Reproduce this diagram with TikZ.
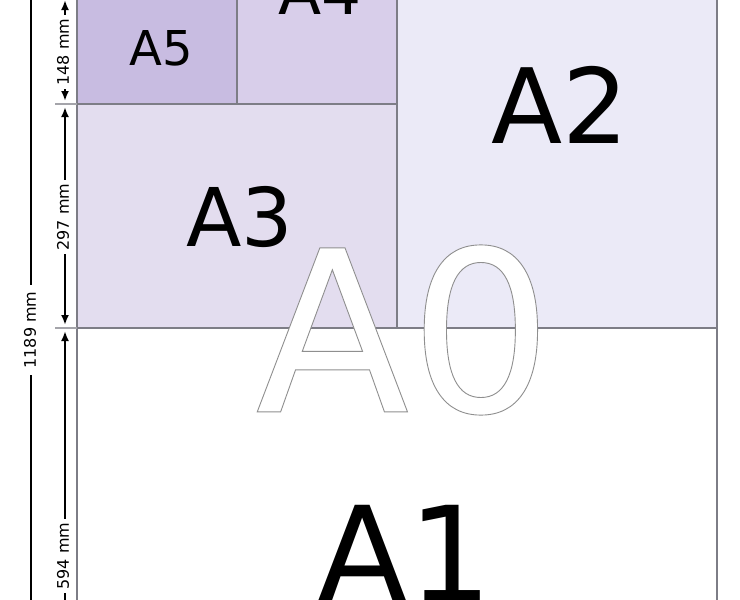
\documentclass[tikz,border=0pt]{standalone}
\usepackage{fontspec}
\setmainfont{DejaVu Sans}
\usetikzlibrary{arrows.meta}
\definecolor{cfive}{RGB}{200,188,225}
\definecolor{cfour}{RGB}{216,206,234}
\definecolor{cthree}{RGB}{227,221,239}
\definecolor{ctwo}{RGB}{235,234,247}
\definecolor{cborder}{RGB}{125,125,134}
\tikzset{
  sheet/.style={draw=cborder, line width=1.5pt},
  dimline/.style={draw=black, line width=2pt},
  dimarrow/.style={dimline, {Latex[length=10pt,width=8pt]}-{Latex[length=10pt,width=8pt]}},
  dimtext/.style={fill=white, inner sep=4pt, rotate=90, font=\fontsize{16}{16}\selectfont},
  tick/.style={draw=cborder!70, line width=1.2pt},
  biglabel/.style={inner sep=0pt, text=black}
}
\newcommand{\outlinedtext}[1]{{\color{white}\special{pdf:code q 2 Tr 0.9 w 0.56 0.56 0.56 RG}#1\special{pdf:code 0 Tr Q}}}
\begin{document}
\begin{tikzpicture}[x=1pt,y=-1pt]
\useasboundingbox (0,0) rectangle (740,600);
\begin{scope}
\clip (0,0) rectangle (740,600);
\fill[white] (0,0) rectangle (740,600);
% sheets
\path[sheet, fill=white] (77,-124) rectangle (717,779);
\path[sheet, fill=ctwo] (397,-124) rectangle (717,328);
\path[sheet, fill=cthree] (77,104) rectangle (397,328);
\path[sheet, fill=cfour] (237,-124) rectangle (397,104);
\path[sheet, fill=cfive] (77,-2) rectangle (237,104);
\path[sheet] (77,-124) rectangle (717,779);
% ticks
\coordinate (t1a) at (55,104); \coordinate (t1b) at (77,104);
\coordinate (t2a) at (55,328); \coordinate (t2b) at (77,328);
\draw[tick] (t1a) -- (t1b);
\draw[tick] (t2a) -- (t2b);
% dimension arrows
\coordinate (d148a) at (65,0); \coordinate (d148b) at (65,101);
\coordinate (d297a) at (65,107); \coordinate (d297b) at (65,325);
\coordinate (d594a) at (65,331); \coordinate (d594b) at (65,776);
\coordinate (d1189a) at (31,-124); \coordinate (d1189b) at (31,779);
\draw[dimarrow] (d148a) -- (d148b);
\draw[dimarrow] (d297a) -- (d297b);
\draw[dimarrow] (d594a) -- (d594b);
\draw[dimline] (d1189a) -- (d1189b);
\node[dimtext] (l148) at (63,52) {148 mm};
\node[dimtext] (l297) at (63,217) {297 mm};
\node[dimtext] (l594) at (63,556) {594 mm};
\node[dimtext, inner sep=7pt] (l1189) at (30,330) {1189 mm};
% labels
\node[biglabel, font=\fontsize{48}{48}\selectfont] (a5) at (161,48) {A5};
\node[biglabel, font=\fontsize{63}{63}\selectfont] (a4) at (320,-8) {A4};
\node[biglabel, font=\fontsize{81}{81}\selectfont] (a3) at (240,217) {A3};
\node[biglabel, font=\fontsize{104}{104}\selectfont] (a2) at (560,105) {A2};
\node[biglabel, font=\fontsize{132}{132}\selectfont] (a1) at (405,553) {A1};
% outlined A0
\node[biglabel, font=\fontsize{225}{225}\selectfont] (a0) at (404,330) {\outlinedtext{A0}};
\end{scope}
\end{tikzpicture}
\end{document}
